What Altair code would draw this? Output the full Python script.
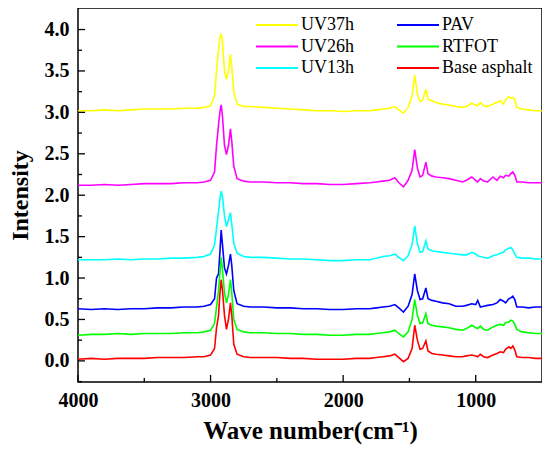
import altair as alt
import pandas as pd

wavenumber = [4000, 3900, 3800, 3700, 3600, 3500, 3400, 3300, 3200, 3100, 3050, 3000,
              2970, 2955, 2940, 2930, 2920, 2910, 2895, 2880, 2865, 2850, 2840, 2825,
              2800, 2750, 2700, 2600, 2500, 2400, 2300, 2200, 2100, 2000, 1900, 1800,
              1750, 1700, 1650, 1610, 1580, 1545, 1510, 1480, 1460, 1440, 1420, 1400,
              1376, 1360, 1330, 1300, 1250, 1200, 1150, 1100, 1070, 1030, 1000, 985,
              965, 940, 910, 870, 840, 815, 790, 775, 750, 735, 720, 705, 690, 650,
              600, 550, 500]

base_asphalt = [0.02, 0.03, 0.02, 0.03, 0.03, 0.03, 0.04, 0.04, 0.04, 0.05, 0.05, 0.07,
                0.15, 0.40, 0.55, 0.80, 0.98, 0.85, 0.55, 0.38, 0.50, 0.70, 0.55, 0.20,
                0.08, 0.05, 0.04, 0.04, 0.04, 0.03, 0.03, 0.02, 0.02, 0.02, 0.03, 0.03,
                0.04, 0.05, 0.06, 0.08, 0.04, -0.01, 0.03, 0.15, 0.43, 0.25, 0.14, 0.15,
                0.24, 0.12, 0.09, 0.08, 0.07, 0.06, 0.05, 0.05, 0.06, 0.07, 0.06, 0.05,
                0.08, 0.05, 0.04, 0.07, 0.09, 0.11, 0.10, 0.14, 0.17, 0.15, 0.18, 0.13,
                0.05, 0.04, 0.04, 0.03, 0.03]

rtfot = [0.31, 0.32, 0.32, 0.33, 0.32, 0.33, 0.33, 0.33, 0.34, 0.34, 0.35, 0.37,
         0.45, 0.65, 0.85, 1.05, 1.25, 1.10, 0.82, 0.70, 0.80, 0.98, 0.82, 0.50,
         0.38, 0.35, 0.34, 0.34, 0.33, 0.33, 0.32, 0.32, 0.31, 0.31, 0.32, 0.32,
         0.33, 0.34, 0.35, 0.37, 0.33, 0.29, 0.35, 0.50, 0.74, 0.55, 0.45, 0.46,
         0.57, 0.45, 0.43, 0.42, 0.41, 0.40, 0.38, 0.37, 0.39, 0.43, 0.40, 0.39,
         0.42, 0.38, 0.37, 0.41, 0.43, 0.44, 0.43, 0.46, 0.47, 0.49, 0.48, 0.44,
         0.38, 0.35, 0.34, 0.33, 0.33]

pav = [0.63, 0.62, 0.63, 0.62, 0.63, 0.63, 0.64, 0.64, 0.65, 0.65, 0.66, 0.68,
       0.75, 1.00, 1.05, 1.30, 1.58, 1.40, 1.12, 1.05, 1.15, 1.29, 1.15, 0.85,
       0.69, 0.66, 0.65, 0.65, 0.64, 0.64, 0.63, 0.63, 0.62, 0.62, 0.63, 0.63,
       0.64, 0.65, 0.66, 0.68, 0.64, 0.59, 0.66, 0.80, 1.05, 0.85, 0.74, 0.75,
       0.88, 0.75, 0.73, 0.72, 0.70, 0.69, 0.66, 0.66, 0.67, 0.69, 0.68, 0.73,
       0.65, 0.66, 0.67, 0.68, 0.70, 0.74, 0.72, 0.70, 0.75, 0.76, 0.78, 0.74,
       0.65, 0.65, 0.64, 0.65, 0.65]

uv13h = [1.22, 1.22, 1.22, 1.23, 1.22, 1.23, 1.23, 1.24, 1.24, 1.25, 1.26, 1.29,
         1.40, 1.60, 1.80, 1.95, 2.05, 1.98, 1.75, 1.62, 1.70, 1.79, 1.65, 1.42,
         1.30, 1.26, 1.25, 1.25, 1.24, 1.23, 1.23, 1.22, 1.21, 1.21, 1.22, 1.22,
         1.24, 1.26, 1.27, 1.29, 1.25, 1.21, 1.27, 1.40, 1.63, 1.42, 1.31, 1.32,
         1.45, 1.35, 1.33, 1.32, 1.31, 1.30, 1.29, 1.28, 1.28, 1.31, 1.29, 1.27,
         1.26, 1.25, 1.24, 1.27, 1.28, 1.30, 1.31, 1.34, 1.36, 1.37, 1.34, 1.29,
         1.25, 1.24, 1.24, 1.23, 1.23]

uv26h = [2.12, 2.12, 2.13, 2.12, 2.13, 2.14, 2.14, 2.14, 2.15, 2.15, 2.16, 2.18,
         2.28, 2.60, 2.85, 3.00, 3.09, 2.95, 2.60, 2.49, 2.60, 2.80, 2.65, 2.35,
         2.20, 2.17, 2.16, 2.16, 2.15, 2.15, 2.14, 2.14, 2.13, 2.13, 2.14, 2.15,
         2.16, 2.17, 2.18, 2.21, 2.15, 2.10, 2.18, 2.30, 2.55, 2.33, 2.22, 2.24,
         2.40, 2.26, 2.23, 2.22, 2.21, 2.20, 2.18, 2.16, 2.18, 2.22, 2.18, 2.16,
         2.20, 2.17, 2.16, 2.22, 2.18, 2.23, 2.21, 2.24, 2.23, 2.26, 2.28, 2.24,
         2.16, 2.16, 2.15, 2.15, 2.15]

uv37h = [3.02, 3.02, 3.03, 3.02, 3.03, 3.04, 3.04, 3.04, 3.05, 3.05, 3.06, 3.08,
         3.20, 3.50, 3.75, 3.90, 3.95, 3.85, 3.50, 3.40, 3.50, 3.70, 3.55, 3.25,
         3.10, 3.07, 3.07, 3.06, 3.05, 3.04, 3.03, 3.02, 3.02, 3.01, 3.02, 3.02,
         3.03, 3.04, 3.05, 3.07, 3.03, 2.99, 3.06, 3.20, 3.45, 3.22, 3.13, 3.15,
         3.28, 3.16, 3.14, 3.12, 3.10, 3.09, 3.07, 3.06, 3.07, 3.11, 3.09, 3.08,
         3.12, 3.08, 3.07, 3.10, 3.12, 3.14, 3.10, 3.15, 3.19, 3.17, 3.18, 3.15,
         3.06, 3.04, 3.03, 3.02, 3.02]

series_names = ["UV37h", "UV26h", "UV13h", "PAV", "RTFOT", "Base asphalt"]
series_colors = ["#FFFF00", "#FF00FF", "#00FFFF", "#0000FF", "#00FF00", "#FF0000"]
series_values = [uv37h, uv26h, uv13h, pav, rtfot, base_asphalt]

x_major = [4000, 3000, 2000, 1000]
x_minor = [3500, 2500, 1500]
y_major = [0.0, 0.5, 1.0, 1.5, 2.0, 2.5, 3.0, 3.5, 4.0]
y_minor = [-0.25, 0.25, 0.75, 1.25, 1.75, 2.25, 2.75, 3.25, 3.75]

rows = []
for name, vals in zip(series_names, series_values):
    for i, (w, v) in enumerate(zip(wavenumber, vals)):
        rows.append({"series": name, "wn": w, "val": v, "order": i})
df = pd.DataFrame(rows)

W, H = 464, 374
FONT = "Liberation Serif"

xscale = alt.Scale(domain=[500, 4000], reverse=True, nice=False, zero=False)
yscale = alt.Scale(domain=[-0.255, 4.26], nice=False, zero=False)

xaxis = alt.Axis(title="Wave number(cm⁻¹)", values=x_major, format="d",
                 ticks=False, domain=False, grid=False, labelFlush=False,
                 labelFont=FONT, labelFontSize=20, labelFontWeight="bold",
                 labelColor="black", labelPadding=8,
                 titleFont=FONT, titleFontSize=25, titleFontWeight="bold",
                 titleColor="black", titlePadding=8)
yaxis = alt.Axis(title="Intensity", values=y_major, format=".1f",
                 ticks=False, domain=False, grid=False, labelFlush=False,
                 labelFont=FONT, labelFontSize=20, labelFontWeight="bold",
                 labelColor="black", labelPadding=9,
                 titleFont=FONT, titleFontSize=24, titleFontWeight="bold",
                 titleColor="black", titlePadding=12)

lines = alt.Chart(df).mark_line(strokeWidth=1.6).encode(
    x=alt.X("wn:Q", scale=xscale, axis=xaxis, title="Wave number(cm⁻¹)"),
    y=alt.Y("val:Q", scale=yscale, axis=yaxis, title="Intensity"),
    color=alt.Color("series:N",
                    scale=alt.Scale(domain=series_names, range=series_colors),
                    legend=alt.Legend(title=None, orient="none", legendX=177, legendY=8,
                                      columns=2, columnPadding=42, rowPadding=3.5,
                                      symbolType="stroke", symbolSize=1764,
                                      symbolStrokeWidth=2, clipHeight=18,
                                      labelFont=FONT, labelFontSize=18, labelColor="black",
                                      labelOffset=2, padding=0)),
    order="order:Q",
)

def xticks(vals, length):
    return alt.Chart(pd.DataFrame({"wn": vals})).mark_rule(color="black", strokeWidth=1.3).encode(
        x=alt.X("wn:Q", scale=xscale, axis=xaxis, title="Wave number(cm⁻¹)"),
        y=alt.value(H), y2=alt.value(H - length))

def yticks(vals, length):
    return alt.Chart(pd.DataFrame({"val": vals})).mark_rule(color="black", strokeWidth=1.3).encode(
        y=alt.Y("val:Q", scale=yscale, axis=yaxis, title="Intensity"),
        x=alt.value(0), x2=alt.value(length))

chart = alt.layer(lines, xticks(x_major, 7), xticks(x_minor, 4),
                  yticks(y_major, 7), yticks(y_minor, 4)).properties(
    width=W, height=H, autosize="none",
    padding={"left": 70, "top": 0, "right": 0, "bottom": 66},
    background="white",
).configure_view(stroke="black", strokeWidth=1.5)

chart.save("out.html", embed_options={"renderer": "svg", "actions": False})
